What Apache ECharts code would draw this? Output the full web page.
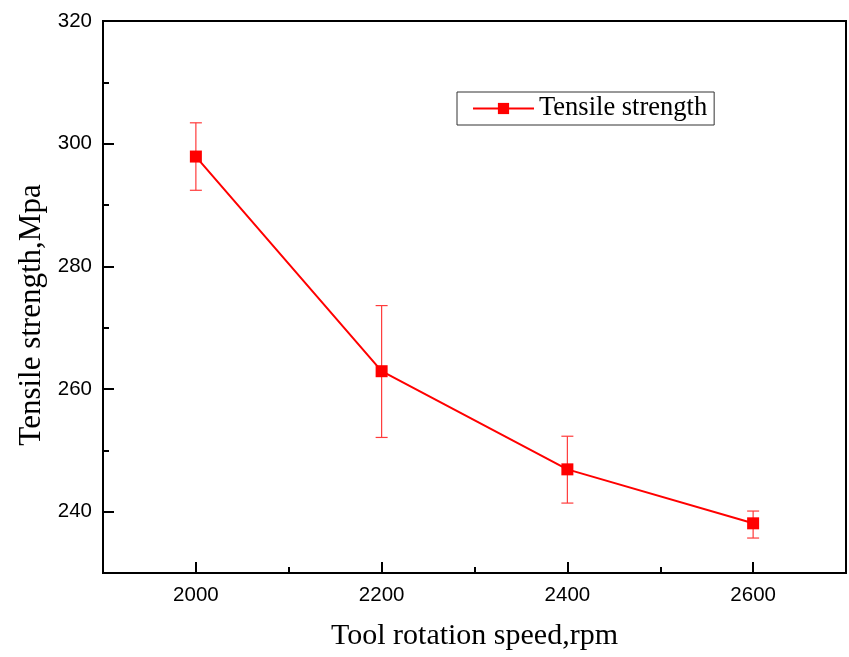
<!DOCTYPE html>
<html>
<head>
<meta charset="utf-8">
<script src="https://cdn.jsdelivr.net/npm/echarts@6/dist/echarts.min.js"></script>
<style>html,body{margin:0;padding:0;background:#fff}#c{width:849px;height:657px}</style>
</head>
<body>
<div id="c"></div>
<script>
const speeds = [2000, 2200, 2400, 2600];
const strength = [297.9, 262.9, 246.9, 238.1];
const errLow = [292.4, 252.1, 241.4, 235.7];
const errHigh = [303.4, 273.6, 252.3, 240.1];
const xMajorTicks = [2000, 2200, 2400, 2600];
const xMinorTicks = [2100, 2300, 2500];
const yMajorTicks = [240, 260, 280, 300, 320];
const yMinorTicks = [250, 270, 290, 310];

const chart = echarts.init(document.getElementById('c'));
const serif = '"Liberation Serif", "Times New Roman", serif';
const sans = '"Liberation Sans", Arial, sans-serif';

const errData = speeds.map((s, i) => [s, errLow[i], errHigh[i]]);
const lineData = speeds.map((s, i) => [s, strength[i]]);

chart.setOption({
  animation: false,
  backgroundColor: '#fff',
  grid: { left: 103, top: 21, right: 3, bottom: 84, show: true, borderColor: '#000', borderWidth: 2, backgroundColor: 'transparent' },
  legend: {
    data: ['Tensile strength'],
    left: 457, top: 92,
    orient: 'horizontal',
    borderColor: '#333', borderWidth: 1,
    padding: [3, 7, 3, 15],
    itemWidth: 61, itemHeight: 14,
    textStyle: { fontFamily: serif, fontSize: 26.5, color: '#000' }
  },
  xAxis: [{
    type: 'value', min: 1900, max: 2700, interval: 100,
    name: 'Tool rotation speed,rpm', nameLocation: 'middle', nameGap: 48,
    nameTextStyle: { fontFamily: serif, fontSize: 30, color: '#000' },
    axisLine: { show: true, lineStyle: { color: '#000', width: 2 } },
    axisTick: { show: true, inside: true, length: 11, customValues: xMajorTicks, lineStyle: { color: '#000', width: 2 } },
    axisLabel: { customValues: xMajorTicks, formatter: v => String(v), fontFamily: sans, fontSize: 20.5, color: '#000', margin: 12 },
    splitLine: { show: false }
  }, {
    type: 'value', min: 1900, max: 2700, interval: 100, position: 'bottom',
    axisLine: { show: false },
    axisTick: { show: true, inside: true, length: 6, customValues: xMinorTicks, lineStyle: { color: '#000', width: 2 } },
    axisLabel: { show: false },
    splitLine: { show: false }
  }],
  yAxis: [{
    type: 'value', min: 230, max: 320, interval: 10,
    name: 'Tensile strength,Mpa', nameLocation: 'middle', nameGap: 51,
    nameTextStyle: { fontFamily: serif, fontSize: 31, color: '#000', padding: [0, 36, 0, 0] },
    axisLine: { show: true, lineStyle: { color: '#000', width: 2 } },
    axisTick: { show: true, inside: true, length: 11, customValues: yMajorTicks, lineStyle: { color: '#000', width: 2 } },
    axisLabel: { customValues: yMajorTicks, fontFamily: sans, fontSize: 20.5, color: '#000', margin: 11 },
    splitLine: { show: false }
  }, {
    type: 'value', min: 230, max: 320, interval: 10, position: 'left',
    axisLine: { show: false },
    axisTick: { show: true, inside: true, length: 6, customValues: yMinorTicks, lineStyle: { color: '#000', width: 2 } },
    axisLabel: { show: false },
    splitLine: { show: false }
  }],
  series: [{
    type: 'custom',
    name: 'err',
    xAxisIndex: 0, yAxisIndex: 0,
    data: errData,
    renderItem: function (params, api) {
      const x = api.value(0);
      const lo = api.coord([x, api.value(1)]);
      const hi = api.coord([x, api.value(2)]);
      const hw = 6;
      const st = { stroke: '#ff3b3b', lineWidth: 1.2 };
      return {
        type: 'group',
        children: [
          { type: 'line', shape: { x1: lo[0], y1: lo[1], x2: hi[0], y2: hi[1] }, style: st },
          { type: 'line', shape: { x1: lo[0] - hw, y1: lo[1], x2: lo[0] + hw, y2: lo[1] }, style: st },
          { type: 'line', shape: { x1: hi[0] - hw, y1: hi[1], x2: hi[0] + hw, y2: hi[1] }, style: st }
        ]
      };
    },
    z: 1
  }, {
    type: 'line',
    name: 'Tensile strength',
    xAxisIndex: 0, yAxisIndex: 0,
    data: lineData,
    symbol: 'rect', symbolSize: 12,
    lineStyle: { color: '#ff0000', width: 2 },
    itemStyle: { color: '#ff0000' },
    z: 2
  }]
});
</script>
</body>
</html>
